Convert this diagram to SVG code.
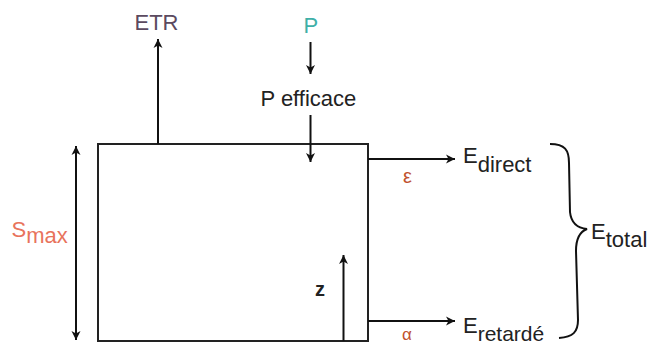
<svg xmlns="http://www.w3.org/2000/svg" width="651" height="345" viewBox="0 0 651 345">
  <style>
    text { font-family: "Liberation Sans", Arial, sans-serif; font-size: 22px; fill: #222; }
    .ln { stroke: #111; stroke-width: 2; fill: none; }
    .arr { marker-end: url(#ah); }
    .box { fill: #fff; stroke: #222; stroke-width: 2; }
  </style>
  <defs>
    <marker id="ah" markerUnits="userSpaceOnUse" markerWidth="12" markerHeight="12" viewBox="0 0 12 12" refX="10" refY="6" orient="auto-start-reverse">
      <path d="M1,1.5 L10,6 L1,10.5 L3.5,6 Z" fill="#111"/>
    </marker>
  </defs>

  <g id="reservoir">
    <rect class="box" x="98" y="144" width="270" height="197"/>
  </g>

  <g id="connectors">
    <line class="ln arr" x1="158" y1="144" x2="158" y2="39"/>
    <line class="ln arr" x1="310.5" y1="42" x2="310.5" y2="74"/>
    <line class="ln arr" x1="310.5" y1="115" x2="310.5" y2="162"/>
    <line class="ln" x1="76" y1="146" x2="76" y2="340" marker-start="url(#ah)" marker-end="url(#ah)"/>
    <line class="ln arr" x1="343.5" y1="341" x2="343.5" y2="255"/>
    <line class="ln arr" x1="368" y1="159" x2="455" y2="159"/>
    <line class="ln arr" x1="368" y1="321" x2="455" y2="321"/>
    <path class="ln" d="M550 144 C565 144 569 150 569 163 L570 212 C571 222 577 228 587 229 C579 232 576 240 576 251 L578 320 C578 332 573 337 559 338"/>
  </g>

  <g id="etr"><text x="134.5" y="30" style="fill:#5b4a60">ETR</text></g>
  <g id="p"><text x="303.5" y="33" style="fill:#3fb0a8">P</text></g>
  <g id="p-efficace"><text x="260.5" y="106">P efficace</text></g>
  <g id="smax"><text x="11.5" y="237" style="fill:#e8735c">S<tspan dy="6">max</tspan></text></g>
  <g id="z"><text x="315" y="296" style="font-weight:bold;font-size:20px">z</text></g>
  <g id="epsilon"><text x="403" y="183" style="fill:#c0512d;font-size:20px">ε</text></g>
  <g id="alpha"><text x="402" y="340" style="fill:#c0512d;font-size:17px">α</text></g>
  <g id="e-direct"><text x="463" y="163">E<tspan dy="9">direct</tspan></text></g>
  <g id="e-retarde"><text x="463" y="333">E<tspan dy="8" style="font-size:21px">retardé</tspan></text></g>
  <g id="e-total"><text x="591" y="238.5">E<tspan dy="8">total</tspan></text></g>
</svg>
